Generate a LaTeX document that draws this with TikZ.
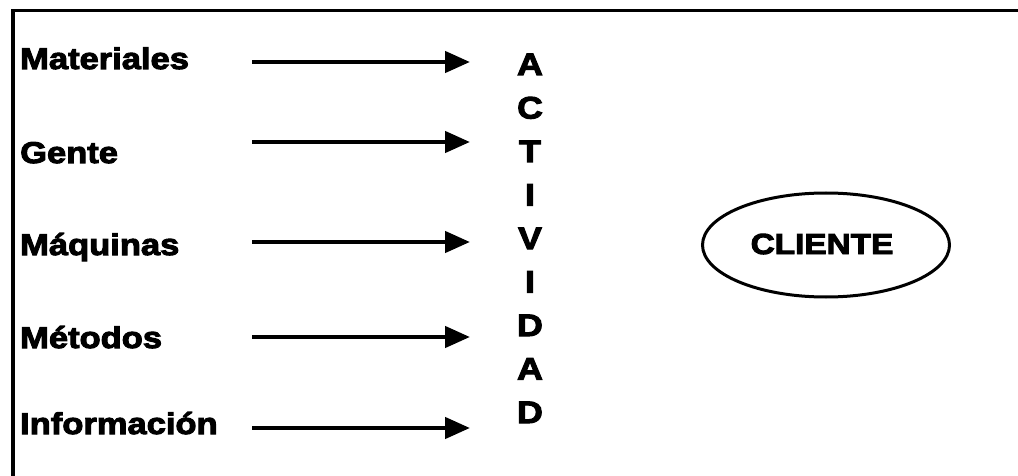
\documentclass[tikz,border=0pt]{standalone}
\usepackage{fontspec}
\usetikzlibrary{arrows.meta,shapes.geometric}
\newfontfamily\lblfont{Liberation Sans Bold}[FakeStretch=1.15,FakeBold=3.4]
\begin{document}
\begin{tikzpicture}[x=1pt,y=-1pt,
  lbl/.style={anchor=base west,inner sep=0pt,font=\lblfont\fontsize{30pt}{34pt}\selectfont},
  letter/.style={anchor=base,inner sep=0pt,font=\lblfont\fontsize{31pt}{34pt}\selectfont},
  flow/.style={line width=4.5pt,-{Triangle[length=25pt,width=21pt]}},
  frame/.style={line width=3.5pt}]
\useasboundingbox (0,0) rectangle (1018,476);
% open frame: top and left edges only
\coordinate (fa) at (13,476);
\coordinate (fb) at (13,10.5);
\coordinate (fc) at (1018,10.5);
\draw[frame] (fa) -- (fb) -- (fc);
% inputs
\node[lbl] (mat) at (20,69) {Materiales};
\node[lbl] (gen) at (20,163) {Gente};
\node[lbl] (maq) at (20,255) {Máquinas};
\node[lbl] (met) at (20,348) {Métodos};
\node[lbl] (inf) at (20,434) {Información};
% arrows into the activity
\foreach \i/\y in {1/62,2/142,3/242,4/337,5/428}{
  \coordinate (s\i) at (252,\y);
  \coordinate (t\i) at (470,\y);
  \draw[flow] (s\i) -- (t\i);
}
% the word ACTIVIDAD, one letter per line
\foreach \l [count=\k from 0] in {A,C,T,I,V,I,D,A,D}{
  \node[letter] (act\k) at (530,75+43.5*\k) {\l};
}
% customer
\node[ellipse,draw,line width=3pt,minimum width=247pt,minimum height=104pt,inner sep=0pt] (cli) at (826,245) {};
\node[anchor=base,inner sep=0pt,font=\lblfont\fontsize{29pt}{34pt}\selectfont] (clit) at (822,254) {CLIENTE};
\end{tikzpicture}
\end{document}
